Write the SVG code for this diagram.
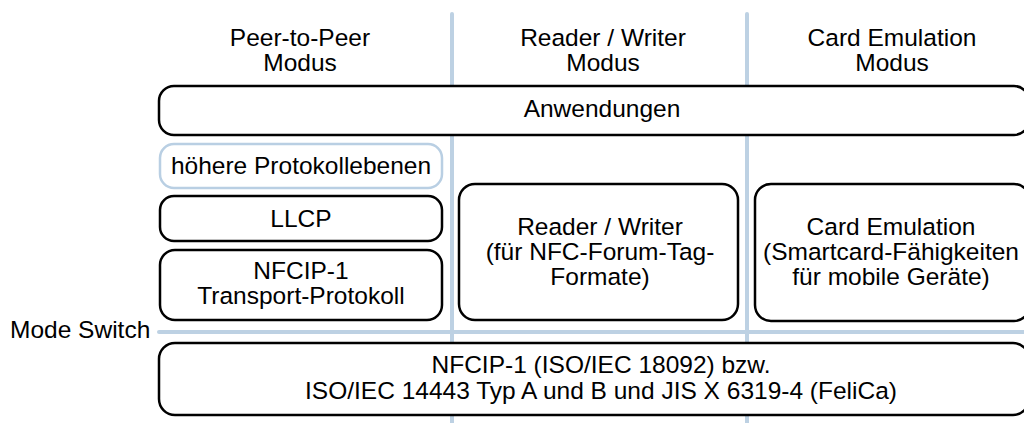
<svg xmlns="http://www.w3.org/2000/svg" width="1024" height="423" viewBox="0 0 1024 423">
  <style>
    .bg { fill: #ffffff; }
    .guide { stroke: #bdd1e3; stroke-width: 4; fill: none; stroke-linecap: round; }
    .box { fill: #ffffff; stroke: #000000; stroke-width: 2.5; }
    .box-soft { fill: #ffffff; stroke: #b9cfe3; stroke-width: 2.5; }
    .lbl { font-family: "Liberation Sans", Arial, sans-serif; font-size: 24.5px; fill: #000000; text-anchor: middle; }
    .side { text-anchor: start; }
  </style>

  <rect class="bg" x="0" y="0" width="1024" height="423"/>

  <!-- mode separators and mode-switch line -->
  <g id="connectors">
    <line class="guide" x1="452" y1="14" x2="452" y2="430"/>
    <line class="guide" x1="747" y1="14" x2="747" y2="430"/>
    <line class="guide" x1="159" y1="332" x2="1030" y2="332"/>
  </g>

  <!-- column headings -->
  <g id="head-p2p">
    <text class="lbl" x="300" y="46">Peer-to-Peer</text>
    <text class="lbl" x="300" y="71">Modus</text>
  </g>
  <g id="head-rw">
    <text class="lbl" x="603" y="46">Reader / Writer</text>
    <text class="lbl" x="603" y="71">Modus</text>
  </g>
  <g id="head-ce">
    <text class="lbl" x="892" y="46">Card Emulation</text>
    <text class="lbl" x="892" y="71">Modus</text>
  </g>

  <g id="anwendungen">
    <rect class="box" x="159" y="86" width="870" height="49" rx="15"/>
    <text class="lbl" x="602" y="117">Anwendungen</text>
  </g>

  <g id="hoehere">
    <rect class="box-soft" x="160" y="144" width="282" height="44" rx="14"/>
    <text class="lbl" x="301" y="174">höhere Protokollebenen</text>
  </g>

  <g id="llcp">
    <rect class="box" x="160" y="196" width="282" height="45" rx="14"/>
    <text class="lbl" x="301" y="227">LLCP</text>
  </g>

  <g id="nfcip-transport">
    <rect class="box" x="160" y="250" width="282" height="70" rx="15"/>
    <text class="lbl" x="301" y="279">NFCIP-1</text>
    <text class="lbl" x="301" y="304">Transport-Protokoll</text>
  </g>

  <g id="reader-writer">
    <rect class="box" x="459" y="184" width="279" height="136" rx="16"/>
    <text class="lbl" x="600" y="235">Reader / Writer</text>
    <text class="lbl" x="600" y="260">(für NFC-Forum-Tag-</text>
    <text class="lbl" x="600" y="285">Formate)</text>
  </g>

  <g id="card-emulation">
    <rect class="box" x="755" y="184" width="275" height="137" rx="16"/>
    <text class="lbl" x="891" y="235">Card Emulation</text>
    <text class="lbl" x="891" y="260">(Smartcard-Fähigkeiten</text>
    <text class="lbl" x="891" y="285">für mobile Geräte)</text>
  </g>

  <g id="mode-switch">
    <text class="lbl side" x="10" y="338">Mode Switch</text>
  </g>

  <g id="nfcip-base">
    <rect class="box" x="159" y="343" width="870" height="72" rx="16"/>
    <text class="lbl" x="601" y="373">NFCIP-1 (ISO/IEC 18092) bzw.</text>
    <text class="lbl" x="601" y="399">ISO/IEC 14443 Typ A und B und JIS X 6319-4 (FeliCa)</text>
  </g>
</svg>
